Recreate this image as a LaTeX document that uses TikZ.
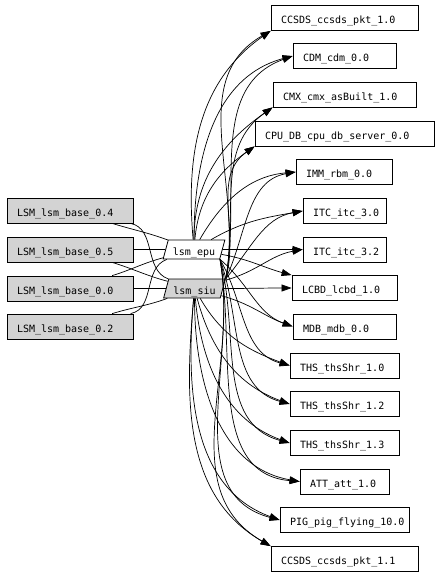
\documentclass[tikz,border=0pt]{standalone}
\usepackage{fontspec}
\newfontfamily\depfont{DejaVu Sans Mono}
\usetikzlibrary{arrows.meta,shapes.geometric}
\definecolor{basegray}{HTML}{D3D3D3}

\begin{document}
\begin{tikzpicture}[
  x=1pt, y=-1pt,
  font=\depfont\fontsize{10}{12}\selectfont,
  >={Triangle[length=10pt,width=7pt]},
  % package boxes: label flush left, box width = #1 + 20pt
  pkg/.style={draw, line width=0.8pt, minimum height=25pt,
    inner xsep=10pt, inner ysep=0pt, text width=#1, align=left,
    text height=11.5pt, text depth=0pt},
  base/.style={pkg=106pt, fill=basegray},
  module/.style={draw, trapezium, trapezium left angle=70,
    trapezium right angle=110, trapezium stretches=true,
    minimum width=62pt, minimum height=19pt, inner sep=0pt, line width=0.8pt,
    text height=11.5pt, text depth=0pt},
  link/.style={line width=0.7pt},
  uses/.style={link, ->},
]

% fixed canvas
\useasboundingbox (0,0) rectangle (440,576);

% --- base packages (left) ---
\node[base] (baseA) at (70,210.5) {LSM\_lsm\_base\_0.4};
\node[base] (baseB) at (70,249.5) {LSM\_lsm\_base\_0.5};
\node[base] (baseC) at (70,288.5) {LSM\_lsm\_base\_0.0};
\node[base] (baseD) at (70,326.5) {LSM\_lsm\_base\_0.2};

% --- modules (middle) ---
\node[module, fill=white] (epu) at (194,249.5) {lsm\_epu};
\node[module, fill=basegray] (siu) at (194.5,288.5) {lsm\_siu};

% --- dependencies (right) ---
\node[pkg=127pt] (ccsdsA) at (344.5,18)    {CCSDS\_ccsds\_pkt\_1.0};
\node[pkg=83pt]  (cdm)    at (344.5,56)    {CDM\_cdm\_0.0};
\node[pkg=123pt] (cmx)    at (344.5,94.5)  {CMX\_cmx\_asBuilt\_1.0};
\node[pkg=159pt] (cpu)    at (344.5,133.5) {CPU\_DB\_cpu\_db\_server\_0.0};
\node[pkg=76pt]  (imm)    at (344,172)     {IMM\_rbm\_0.0};
\node[pkg=63pt]  (itcA)   at (344.5,211)   {ITC\_itc\_3.0};
\node[pkg=63pt]  (itcB)   at (344.5,249.5) {ITC\_itc\_3.2};
\node[pkg=85pt]  (lcbd)   at (344.5,288)   {LCBD\_lcbd\_1.0};
\node[pkg=83pt]  (mdb)    at (344.5,326.5) {MDB\_mdb\_0.0};
\node[pkg=89pt]  (thsA)   at (344.5,365.5) {THS\_thsShr\_1.0};
\node[pkg=89pt]  (thsB)   at (344.5,404)   {THS\_thsShr\_1.2};
\node[pkg=89pt]  (thsC)   at (344.5,443)   {THS\_thsShr\_1.3};
\node[pkg=69pt]  (att)    at (344.5,481.5) {ATT\_att\_1.0};
\node[pkg=109pt] (pig)    at (344.5,520)   {PIG\_pig\_flying\_10.0};
\node[pkg=127pt] (ccsdsB) at (344.5,559)   {CCSDS\_ccsds\_pkt\_1.1};

% base -> module (no heads)
\draw[link] (baseA) to[out=-17,in=160] (epu);
\draw[link] (baseA) to[out=-12,in=160] (siu);
\draw[link] (baseB) to[out=0,in=180]   (epu);
\draw[link] (baseB) to[out=-17,in=165] (siu);
\draw[link] (baseC) to[out=17,in=195]  (epu);
\draw[link] (baseC) to[out=0,in=180]   (siu);
\draw[link] (baseD) to[out=12,in=200]  (epu);
\draw[link] (baseD) to[out=17,in=200]  (siu);

% lsm_epu -> deps
\draw[uses] (epu) to[out=95,in=215] (ccsdsA.south west);
\draw[uses] (epu) to[out=90,in=195] (cdm.west);
\draw[uses] (epu) to[out=90,in=215] (cmx.south west);
\draw[uses] (epu) to[out=85,in=215] (cpu.south west);
\draw[uses] (epu) to[out=60,in=185] (imm.west);
\draw[uses] (epu) to[out=30,in=190] (itcA.west);
\draw[uses] (epu) to[out=0,in=180]  (itcB.west);
\draw[uses] (epu) to[out=-10,in=165] (lcbd.north west);
\draw[uses] (epu.bottom right corner) to[out=-40,in=160] (mdb.west);
\draw[uses] (epu.bottom right corner) to[out=-60,in=165] (thsA.west);
\draw[uses] (epu.bottom right corner) to[out=-70,in=165] (thsB.west);
\draw[uses] (epu.bottom right corner) to[out=-75,in=165] (thsC.west);
\draw[uses] (epu.bottom right corner) to[out=-80,in=175] (att.west);
\draw[uses] (epu.bottom right corner) to[out=-80,in=165] (pig.west);
\draw[uses] (epu.bottom right corner) to[out=-80,in=150] (ccsdsB.north west);

% lsm_siu -> deps
\draw[uses] (siu.top right corner) to[out=80,in=210] (ccsdsA.south west);
\draw[uses] (siu.top right corner) to[out=80,in=200] (cdm.west);
\draw[uses] (siu.top right corner) to[out=80,in=215] (cmx.south west);
\draw[uses] (siu.top right corner) to[out=75,in=215] (cpu.south west);
\draw[uses] (siu.top right corner) to[out=65,in=190] (imm.west);
\draw[uses] (siu.top right corner) to[out=50,in=190] (itcA.west);
\draw[uses] (siu) to[out=15,in=190]  (itcB.west);
\draw[uses] (siu) to[out=0,in=180]   (lcbd.west);
\draw[uses] (siu) to[out=-15,in=160] (mdb.west);
\draw[uses] (siu) to[out=-60,in=160] (thsA.west);
\draw[uses] (siu) to[out=-75,in=160] (thsB.west);
\draw[uses] (siu) to[out=-85,in=160] (thsC.west);
\draw[uses] (siu) to[out=-90,in=170] (att.west);
\draw[uses] (siu) to[out=-95,in=160] (pig.west);
\draw[uses] (siu) to[out=-95,in=150] (ccsdsB.north west);

\end{tikzpicture}
\end{document}
